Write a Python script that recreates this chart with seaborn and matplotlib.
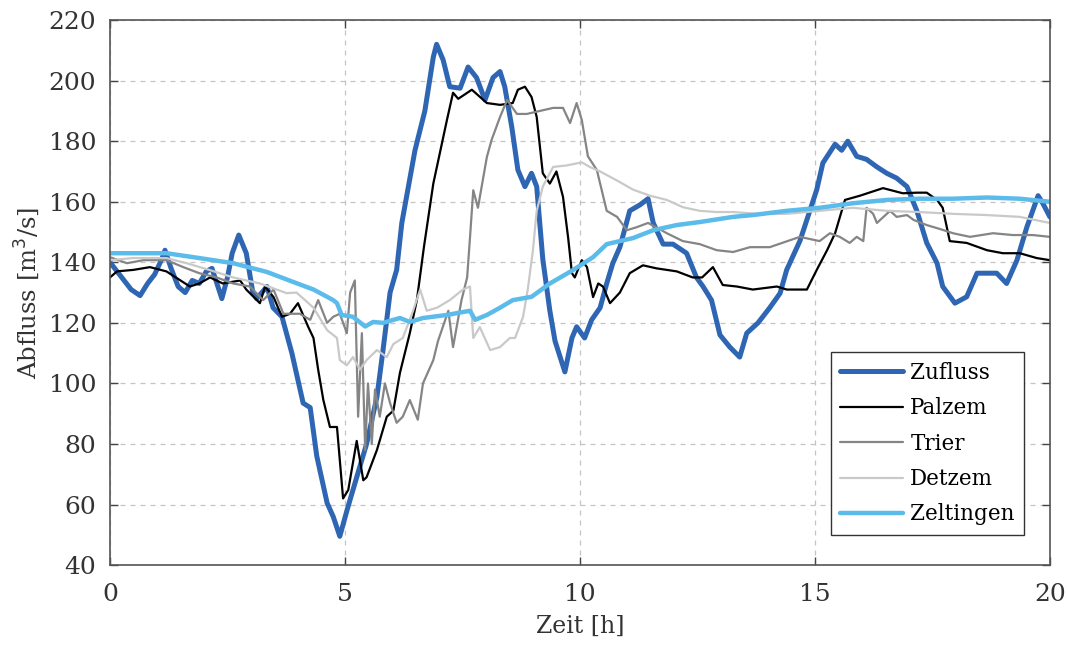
import matplotlib
matplotlib.use("Agg")
import matplotlib.pyplot as plt
import seaborn as sns
import pandas as pd

# Time [h] and discharge [m3/s] per gauge
zufluss_t = [0.0, 0.15, 0.3, 0.45, 0.64, 0.8, 0.95, 1.1, 1.17, 1.3, 1.45, 1.6, 1.75, 1.9, 2.05, 2.17,
             2.38, 2.5, 2.6, 2.74, 2.9, 3.04, 3.12, 3.34, 3.47, 3.66, 3.87, 4.11, 4.26, 4.4, 4.62,
             4.75, 4.89, 5.06, 5.25, 5.46, 5.68, 5.81, 5.96, 6.1, 6.21, 6.49, 6.7, 6.88, 6.95, 7.09,
             7.23, 7.45, 7.62, 7.8, 7.98, 8.15, 8.3, 8.4, 8.55, 8.68, 8.83, 8.97, 9.08, 9.21, 9.36,
             9.47, 9.68, 9.83, 9.93, 10.1, 10.25, 10.43, 10.57, 10.7, 10.85, 11.06, 11.28, 11.45,
             11.56, 11.77, 11.98, 12.27, 12.48, 12.62, 12.8, 12.98, 13.19, 13.4, 13.55, 13.79,
             14.04, 14.26, 14.4, 14.68, 14.85, 15.04, 15.17, 15.43, 15.57, 15.7, 15.89, 16.1,
             16.32, 16.53, 16.74, 16.96, 17.17, 17.38, 17.6, 17.72, 17.98, 18.23, 18.45, 18.66,
             18.87, 19.08, 19.3, 19.51, 19.75, 19.85, 20.0]
zufluss_q = [140, 137, 134, 131, 129, 133, 136, 141, 144, 138, 132, 130, 134, 133, 137, 138,
             128, 135, 143, 149, 143, 130, 128, 132, 125, 122, 110, 93.5, 92, 76, 60.5,
             56, 49.5, 59, 69, 80, 95.5, 111, 130, 137.5, 153, 177, 190, 207.8, 212, 206.8,
             198, 197.5, 204.5, 201, 193.6, 201, 203, 198, 184.7, 170.5, 165, 169.4, 165, 141, 124,
             114, 103.8, 115, 118.7, 115, 121, 125, 133, 139.7, 145, 157, 159, 161,
             153, 146, 146, 143, 135, 132, 127.5, 116, 112, 108.7, 116.6, 120,
             125, 129.8, 137.5, 147, 155, 164, 172.8, 179, 177, 180, 175, 174,
             171.5, 169.4, 167.8, 165, 157, 146.4, 139.7, 132, 126.5, 128.6, 136.4, 136.4,
             136.4, 133, 140.7, 151.6, 162, 159.5, 155]

palzem_t = [0.0, 0.15, 0.5, 0.85, 1.2, 1.5, 1.7, 1.9, 2.13, 2.4, 2.77, 2.9, 3.19, 3.3, 3.48,
            3.66, 3.83, 4.0, 4.22, 4.33, 4.43, 4.54, 4.68, 4.83, 4.96, 5.07, 5.25, 5.39, 5.46,
            5.68, 5.89, 6.03, 6.17, 6.38, 6.53, 6.68, 6.88, 7.17, 7.3, 7.41, 7.7, 8.02, 8.3,
            8.57, 8.68, 8.83, 8.97, 9.08, 9.21, 9.36, 9.5, 9.64, 9.75, 9.83, 9.89, 10.04, 10.15,
            10.28, 10.39, 10.49, 10.64, 10.85, 11.06, 11.34, 11.63, 12.06, 12.4, 12.6, 12.83,
            13.04, 13.34, 13.68, 14.19, 14.4, 14.83, 15.04, 15.26, 15.43, 15.64, 15.96, 16.45,
            16.87, 17.17, 17.38, 17.6, 17.72, 17.87, 18.23, 18.66, 19.0, 19.36, 19.72, 20.0]
palzem_q = [135, 137, 137.5, 138.4, 137, 134, 132, 133, 135, 133, 134, 131, 126.5, 132, 128.5,
            122, 123, 126.5, 118.6, 115, 104.5, 94.5, 85.6, 85.6, 62, 64.8, 81, 68, 69,
            78, 89, 91, 103.5, 116.6, 127.5, 145, 166, 187, 196, 194, 197, 192.6, 192,
            192.6, 197, 198, 194.6, 188, 169.4, 166, 170, 161.6, 148, 136.4, 135, 140.7, 138.4,
            128.5, 133, 132, 126.5, 130, 136.4, 139, 138, 137, 135, 135, 138.4,
            132.5, 132, 131, 132, 131, 131, 137.5, 144, 149.6, 160.6, 162, 164.5,
            162.8, 163, 163, 160.6, 158, 147, 146.4, 144, 143, 143, 141.4, 140.7]

trier_t = [0.0, 0.36, 0.71, 1.2, 1.56, 1.9, 2.27, 2.62, 2.98, 3.26, 3.48, 3.69, 4.04, 4.26, 4.43,
           4.62, 4.75, 4.89, 5.04, 5.11, 5.21, 5.28, 5.36, 5.43, 5.49, 5.57, 5.64, 5.74, 5.85,
           5.96, 6.1, 6.23, 6.38, 6.55, 6.66, 6.88, 6.98, 7.2, 7.3, 7.48, 7.6, 7.66, 7.73, 7.83,
           8.02, 8.12, 8.3, 8.45, 8.66, 8.87, 9.15, 9.43, 9.64, 9.79, 9.93, 10.04, 10.17, 10.36,
           10.57, 10.79, 11.0, 11.21, 11.45, 11.85, 12.19, 12.55, 12.91, 13.26, 13.62, 14.04,
           14.68, 15.1, 15.32, 15.53, 15.74, 15.89, 16.03, 16.1, 16.24, 16.32, 16.53, 16.6,
           16.74, 16.96, 17.1, 17.38, 17.66, 17.94, 18.3, 18.79, 19.21, 19.64, 20.0]
trier_q = [141.7, 139.7, 140.7, 140.7, 138.4, 136.4, 135, 133, 132, 127.5, 131, 123, 123, 121, 127.5,
           120, 122, 123, 116.6, 130, 134, 89, 116.6, 78, 100, 80, 98, 89, 100,
           93.5, 87, 89, 94.5, 88, 100, 107.7, 114, 124, 112, 127.5, 135, 148, 163.8, 158,
           174.8, 180.4, 188, 193.6, 189, 189, 190, 191, 191, 186, 192.6, 187, 175, 170.5,
           157, 155, 150.6, 151.6, 153, 149.6, 147, 146, 144, 143.4, 145, 145,
           148.4, 147, 149.6, 148.4, 146.4, 148.4, 147, 158, 156, 153, 156, 157,
           155, 155.6, 154, 152.3, 151, 149.6, 148.4, 149.6, 149, 149, 148.4]

detzem_t = [0.0, 0.5, 1.2, 1.63, 2.13, 2.62, 3.19, 3.76, 3.97, 4.33, 4.62, 4.83, 4.89, 5.04, 5.17,
            5.32, 5.46, 5.68, 5.89, 6.03, 6.23, 6.45, 6.6, 6.74, 6.96, 7.23, 7.51, 7.66, 7.73,
            7.87, 8.09, 8.3, 8.51, 8.62, 8.79, 8.89, 9.0, 9.08, 9.21, 9.43, 9.72, 10.04, 10.21,
            10.43, 10.79, 11.13, 11.49, 11.85, 12.19, 12.55, 12.91, 13.26, 13.79, 14.4, 15.1,
            15.81, 16.53, 17.23, 17.94, 18.66, 19.36, 20.0]
detzem_q = [140.7, 141.4, 141.4, 139.7, 137.4, 135, 133, 129.8, 130, 125, 117.6, 115, 107.7, 106, 108.7,
            104.6, 107.7, 111, 108.7, 113, 115, 124, 131, 124, 125, 127.5, 131, 132, 115,
            118.6, 111, 112, 115, 115, 122, 131, 144, 157, 165, 171.5, 172, 173, 171.5,
            170, 167, 164, 162, 160.6, 158.2, 157, 156.6, 156.6, 156, 156, 157,
            158, 157, 156.6, 156, 155.6, 155, 153]

zeltingen_t = [0.0, 1.2, 1.9, 2.62, 3.34, 3.9, 4.33, 4.62, 4.75, 4.83, 4.93, 5.17, 5.43, 5.6,
               5.81, 6.17, 6.38, 6.66, 7.17, 7.66, 7.77, 8.02, 8.3, 8.57, 8.97, 9.36, 9.85, 10.28,
               10.57, 10.85, 11.13, 11.56, 12.06, 12.55, 13.26, 13.68, 14.4, 15.1, 15.81, 16.53,
               17.23, 17.94, 18.66, 19.36, 20.0]
zeltingen_q = [143, 143, 141.4, 139.7, 136.8, 133.5, 131, 128.6, 127.5, 126.5, 122.6, 122, 118.8, 120.3,
               120, 121.6, 120.3, 121.6, 122.6, 124, 121, 122.6, 125, 127.5, 128.6, 133, 137.4, 141.7,
               146, 147, 148, 150.6, 152.3, 153.3, 155, 155.6, 157, 158, 159.5, 160.6,
               161, 161, 161.4, 161, 160]

series = [
    ("Zufluss", zufluss_t, zufluss_q, "#2e66b3", 3.6),
    ("Palzem", palzem_t, palzem_q, "#000000", 1.6),
    ("Trier", trier_t, trier_q, "#858585", 1.6),
    ("Detzem", detzem_t, detzem_q, "#c9c9c9", 1.6),
    ("Zeltingen", zeltingen_t, zeltingen_q, "#5bbbea", 3.2),
]

sns.set_style("whitegrid")
plt.rcParams["font.family"] = ["DejaVu Serif"]

fig = plt.figure(figsize=(10.68, 6.48), dpi=100)
ax = fig.add_axes([0.103, 0.128, 0.880, 0.841])

for name, t, q, color, lw in series:
    df = pd.DataFrame({"t": t, "q": q})
    sns.lineplot(data=df, x="t", y="q", ax=ax, color=color, linewidth=lw, label=name,
                 estimator=None, sort=False)

ax.set_xlim(0, 20)
ax.set_ylim(40, 220)
ax.set_xticks([0, 5, 10, 15, 20])
ax.set_yticks(range(40, 221, 20))
ax.grid(True, linestyle=(0, (4, 4)), color="#c4c4c4", linewidth=0.9)
ax.tick_params(direction="in", length=6, width=1, color="#444444", labelsize=18,
               top=True, right=True, bottom=True, left=True, labelcolor="#333333", pad=10)
ax.tick_params(axis="x", pad=13)
for sp in ax.spines.values():
    sp.set_color("#555555")
    sp.set_linewidth(1.2)

ax.set_xlabel("Zeit [h]", fontsize=17, color="#333333", labelpad=6)
ax.set_ylabel("Abfluss [m$^3$/s]", fontsize=17.5, color="#333333", labelpad=5)

leg = ax.legend(loc="lower right", bbox_to_anchor=(0.973, 0.055), borderaxespad=0,
                fontsize=15.5, frameon=True, fancybox=False, edgecolor="#333333", framealpha=1,
                handlelength=2.9, handletextpad=0.35, labelspacing=0.62, borderpad=0.45)
leg.get_frame().set_linewidth(1.0)
for txt in leg.get_texts():
    txt.set_color("black")

fig.savefig("out.png", dpi=100)
